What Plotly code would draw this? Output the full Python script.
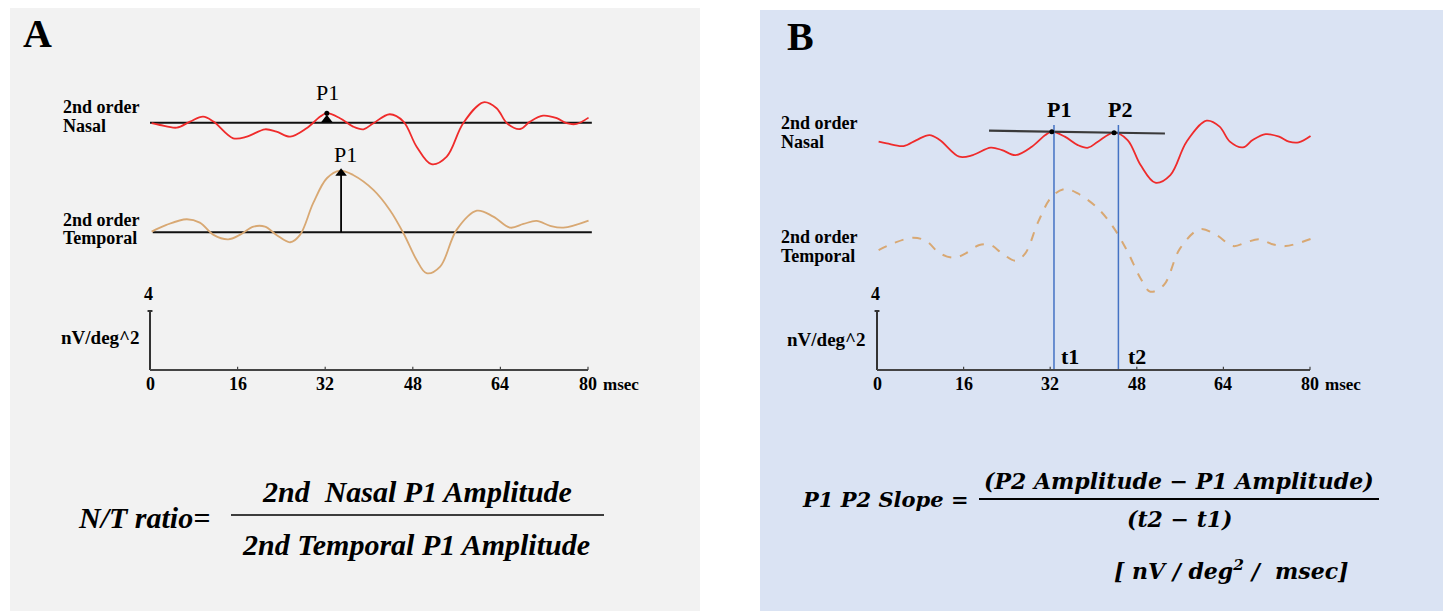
import plotly.graph_objects as go

# The page body keeps an 8px default margin, so the figure is drawn 8px smaller
# and every pixel position below is shifted by that offset.
OFF = 8
W, H = 1451 - OFF, 611 - OFF

# ---------------- data ----------------
# time (msec) and amplitude (nV/deg^2, relative to each trace's own baseline)
t_nasal = [0.3, 1.8, 4.9, 7.3, 9.7, 11.6, 15.2, 17.7, 21.0, 23.1, 25.6, 28.6, 31.1, 32.3,
           34.7, 37.1, 39.0, 40.8, 43.8, 46.3, 48.7, 51.4, 54.2, 57.2, 60.9, 63.3, 65.2,
           67.6, 69.4, 71.8, 74.3, 76.1, 77.9, 80.1]
amp_nasal = [-0.04, -0.16, -0.34, 0.07, 0.41, 0.07, -1.06, -0.95, -0.45, -0.61, -0.95, -0.38,
             0.41, 0.64, 0.30, -0.27, -0.45, -0.04, 0.57, 0.07, -1.63, -2.82, -2.30, -0.04,
             1.38, 0.98, -0.04, -0.43, 0.07, 0.47, 0.30, -0.04, -0.09, 0.34]
t_temporal = [0.3, 3.0, 6.7, 9.1, 11.6, 14.3, 16.4, 18.9, 21.0, 23.1, 25.6, 27.4, 29.8, 32.3,
              34.7, 37.1, 40.8, 43.8, 46.3, 48.7, 50.5, 53.0, 56.0, 59.7, 62.7, 65.8, 68.2,
              70.6, 73.1, 75.5, 80.1]
amp_temporal = [0.04, 0.50, 0.88, 0.65, -0.18, -0.48, -0.18, 0.38, 0.38, -0.18, -0.68, -0.18,
                1.97, 3.66, 4.18, 3.88, 2.87, 1.51, -0.07, -1.88, -2.78, -2.33, 0.16, 1.46,
                1.06, 0.31, 0.56, 0.77, 0.43, 0.31, 0.79]

# trace baselines (vertical offsets on the common amplitude scale)
base_A_nasal, base_A_temporal = 16.77, 9.34
base_B_nasal, base_B_temporal = 15.52, 8.09

# peaks
p1_nasal_t, p1_nasal_amp = 32.3, 0.64
p2_nasal_t, p2_nasal_amp = 43.8, 0.57
p1_temporal_t, p1_temporal_amp = 34.9, 4.3
t1, t2 = 32.7, 44.6

# axes
x_ticks = [0, 16, 32, 48, 64, 80]
x_tick_labels = ["0", "16", "32", "48", "64", "80"]
y_scale_top = 4
x_end = 80

# ---------------- layout helpers (pixel geometry of the reference) ----------------
def P(px):
    return (px - OFF) / W


def Q(py):
    return 1 - (py - OFF) / H

# panel A: 0 ms at px 150, 80 ms at px 588 ; panel B: 0 at 877, 80 at 1310
A0, Aspan = 150.0, 438.0 / 80
B0, Bspan = 877.0, 433.0 / 80
Y0, Yspan = 370.0, 14.75  # px of amplitude 0, px per nV/deg^2

SERIF = "Liberation Serif, Times New Roman, serif"
MATH = "DejaVu Serif, serif"
RED = "#ef2b2b"
TAN = "#d8a873"
BLUE = "#4472c4"

fig = go.Figure()


def nasal_y(base):
    return [base + a for a in amp_nasal]


def temporal_y(base):
    return [base + a for a in amp_temporal]


def axis_traces(xa, ya):
    fig.add_trace(go.Scatter(x=[0, 0, None, -0.45, 0.45], y=[0, y_scale_top, None, y_scale_top, y_scale_top],
                             mode="lines", line=dict(color="#333333", width=2),
                             xaxis=xa, yaxis=ya, hoverinfo="skip"))
    fig.add_trace(go.Scatter(x=[0, x_end], y=[0, 0], mode="lines",
                             line=dict(color="#444444", width=2.2),
                             xaxis=xa, yaxis=ya, hoverinfo="skip"))
    tx, ty = [], []
    for t in x_ticks[1:]:
        tx += [t, t, None]
        ty += [0, 0.22, None]
    fig.add_trace(go.Scatter(x=tx, y=ty, mode="lines", line=dict(color="#444444", width=1.2),
                             xaxis=xa, yaxis=ya, hoverinfo="skip"))


# ---------------- panel A ----------------
fig.add_trace(go.Scatter(x=[0, 80.7], y=[base_A_nasal, base_A_nasal], mode="lines",
                         line=dict(color="#111111", width=2), xaxis="x", yaxis="y"))
fig.add_trace(go.Scatter(x=[0.5, 80.7], y=[base_A_temporal, base_A_temporal], mode="lines",
                         line=dict(color="#111111", width=2), xaxis="x", yaxis="y"))
fig.add_trace(go.Scatter(x=t_nasal, y=nasal_y(base_A_nasal), mode="lines",
                         line=dict(color=RED, width=1.8, shape="spline", smoothing=1.0),
                         xaxis="x", yaxis="y"))
fig.add_trace(go.Scatter(x=t_temporal, y=temporal_y(base_A_temporal), mode="lines",
                         line=dict(color=TAN, width=1.8, shape="spline", smoothing=1.0),
                         xaxis="x", yaxis="y"))
# P1 arrows (shaft + triangular head)
fig.add_trace(go.Scatter(x=[p1_temporal_t, p1_temporal_t],
                         y=[base_A_temporal, base_A_temporal + p1_temporal_amp - 0.3],
                         mode="lines", line=dict(color="black", width=1.8), xaxis="x", yaxis="y"))
fig.add_trace(go.Scatter(x=[p1_temporal_t, p1_nasal_t],
                         y=[base_A_temporal + p1_temporal_amp - 0.3, base_A_nasal + p1_nasal_amp - 0.45],
                         mode="markers", marker=dict(symbol="triangle-up", size=10, color="black"),
                         xaxis="x", yaxis="y"))
fig.add_trace(go.Scatter(x=[p1_nasal_t], y=[base_A_nasal + p1_nasal_amp], mode="markers",
                         marker=dict(size=5, color="black"), xaxis="x", yaxis="y"))
axis_traces("x", "y")

# ---------------- panel B ----------------
# tangent line through P1 and P2
slope = (p2_nasal_amp - p1_nasal_amp) / (p2_nasal_t - p1_nasal_t)
tan_x = [20.7, 53.2]
tan_y = [base_B_nasal + p1_nasal_amp + slope * (x - p1_nasal_t) for x in tan_x]
fig.add_trace(go.Scatter(x=t_nasal, y=nasal_y(base_B_nasal), mode="lines",
                         line=dict(color=RED, width=1.8, shape="spline", smoothing=1.0),
                         xaxis="x2", yaxis="y2"))
fig.add_trace(go.Scatter(x=t_temporal, y=temporal_y(base_B_temporal), mode="lines",
                         line=dict(color=TAN, width=2, dash="dash", shape="spline", smoothing=1.0),
                         xaxis="x2", yaxis="y2"))
fig.add_trace(go.Scatter(x=tan_x, y=tan_y, mode="lines",
                         line=dict(color="#3a3a3a", width=2.2), xaxis="x2", yaxis="y2"))
top_v = base_B_nasal + p1_nasal_amp + 0.45
fig.add_trace(go.Scatter(x=[t1, t1, None, t2, t2], y=[0, top_v, None, 0, top_v], mode="lines",
                         line=dict(color=BLUE, width=1.5), xaxis="x2", yaxis="y2"))
fig.add_trace(go.Scatter(x=[p1_nasal_t, p2_nasal_t],
                         y=[base_B_nasal + p1_nasal_amp, base_B_nasal + p2_nasal_amp],
                         mode="markers", marker=dict(color="black", size=5),
                         xaxis="x2", yaxis="y2"))
axis_traces("x2", "y2")

# ---------------- axes (hidden, used only as scales) ----------------
yr = [(Y0 - 400) / Yspan, (Y0 - 60) / Yspan]
ydom = [Q(400), Q(60)]
fig.update_layout(
    width=W, height=H, margin=dict(l=0, r=0, t=0, b=0),
    paper_bgcolor="white", plot_bgcolor="rgba(0,0,0,0)", showlegend=False,
    xaxis=dict(domain=[P(100), P(640)], range=[(100 - A0) / Aspan, (640 - A0) / Aspan],
               visible=False, fixedrange=True),
    yaxis=dict(domain=ydom, range=yr, visible=False, anchor="x", fixedrange=True),
    xaxis2=dict(domain=[P(830), P(1390)], range=[(830 - B0) / Bspan, (1390 - B0) / Bspan],
                visible=False, anchor="y2", fixedrange=True),
    yaxis2=dict(domain=ydom, range=yr, visible=False, anchor="x2", fixedrange=True),
)

# backgrounds
fig.add_shape(type="rect", xref="paper", yref="paper", x0=P(10), x1=P(700), y0=0, y1=1,
              fillcolor="#f2f2f2", line=dict(width=0), layer="below")
fig.add_shape(type="rect", xref="paper", yref="paper", x0=P(760), x1=1, y0=0, y1=Q(10),
              fillcolor="#dae3f3", line=dict(width=0), layer="below")

# fraction lines
fig.add_shape(type="line", xref="paper", yref="paper", x0=P(231), x1=P(604), y0=Q(515), y1=Q(515),
              line=dict(color="black", width=1.5))
fig.add_shape(type="line", xref="paper", yref="paper", x0=P(979), x1=P(1379), y0=Q(499), y1=Q(499),
              line=dict(color="black", width=2))

ann = []


def text(px, py, s, size, bold=False, italic=False, xanchor="center", family=SERIF, color="black"):
    if italic:
        s = "<i>" + s + "</i>"
    if bold:
        s = "<b>" + s + "</b>"
    ann.append(dict(x=P(px), y=Q(py), xref="paper", yref="paper", text=s, showarrow=False,
                    xanchor=xanchor, yanchor="middle", font=dict(family=family, size=size, color=color)))


# panel letters
text(37, 33, "A", 40, bold=True)
text(800, 36, "B", 40, bold=True)

# trace labels
for (px, pys) in [(61, (107, 126)), (779, (123, 142))]:
    text(px, pys[0], "2nd order", 18, bold=True, xanchor="left")
    text(px, pys[1], "Nasal", 18, bold=True, xanchor="left")
for (px, pys) in [(61, (220, 238)), (779, (237, 256))]:
    text(px, pys[0], "2nd order", 18, bold=True, xanchor="left")
    text(px, pys[1], "Temporal", 18, bold=True, xanchor="left")

# peak labels
text(327, 92, "P1", 22)
text(345, 154, "P1", 22)
text(1059, 109, "P1", 22, bold=True)
text(1120, 109, "P2", 22, bold=True)
text(1070, 356, "t1", 22, bold=True)
text(1137, 356, "t2", 22, bold=True)

# y scale labels
text(142, 337, "nV/deg^2", 19, bold=True, xanchor="right")
text(868, 339, "nV/deg^2", 19, bold=True, xanchor="right")

# tick labels (data coordinates)
for xa, ya in [("x", "y"), ("x2", "y2")]:
    for t, lab in zip(x_ticks, x_tick_labels):
        ann.append(dict(x=t, y=0, xref=xa, yref=ya, text="<b>" + lab + "</b>", showarrow=False,
                        xanchor="center", yanchor="top", yshift=-2,
                        font=dict(family=SERIF, size=18, color="black")))
    ann.append(dict(x=x_end, y=0, xref=xa, yref=ya, text="<b>msec</b>", showarrow=False,
                    xanchor="left", yanchor="top", yshift=-3, xshift=13,
                    font=dict(family=SERIF, size=17, color="black")))
    ann.append(dict(x=0, y=y_scale_top, xref=xa, yref=ya, text="<b>4</b>", showarrow=False,
                    xanchor="center", yanchor="bottom", yshift=5, xshift=-2,
                    font=dict(family=SERIF, size=18, color="black")))

# formulas
text(212, 517, "N/T ratio=", 30, bold=True, italic=True, xanchor="right")
text(417, 491, "2nd  Nasal P1 Amplitude", 30, bold=True, italic=True)
text(416, 544, "2nd Temporal P1 Amplitude", 30, bold=True, italic=True)

text(886, 499, "P1 P2 Slope =", 21, bold=True, italic=True, family=MATH)
text(1179, 481, "(P2 Amplitude − P1 Amplitude)", 22, bold=True, italic=True, family=MATH)
text(1180, 519, "(t2 − t1)", 22, bold=True, italic=True, family=MATH)
text(1231, 570, "[ nV / deg<sup>2</sup> /  msec]", 22, bold=True, italic=True, family=MATH)

fig.update_layout(annotations=ann)
fig.write_html("out.html")
